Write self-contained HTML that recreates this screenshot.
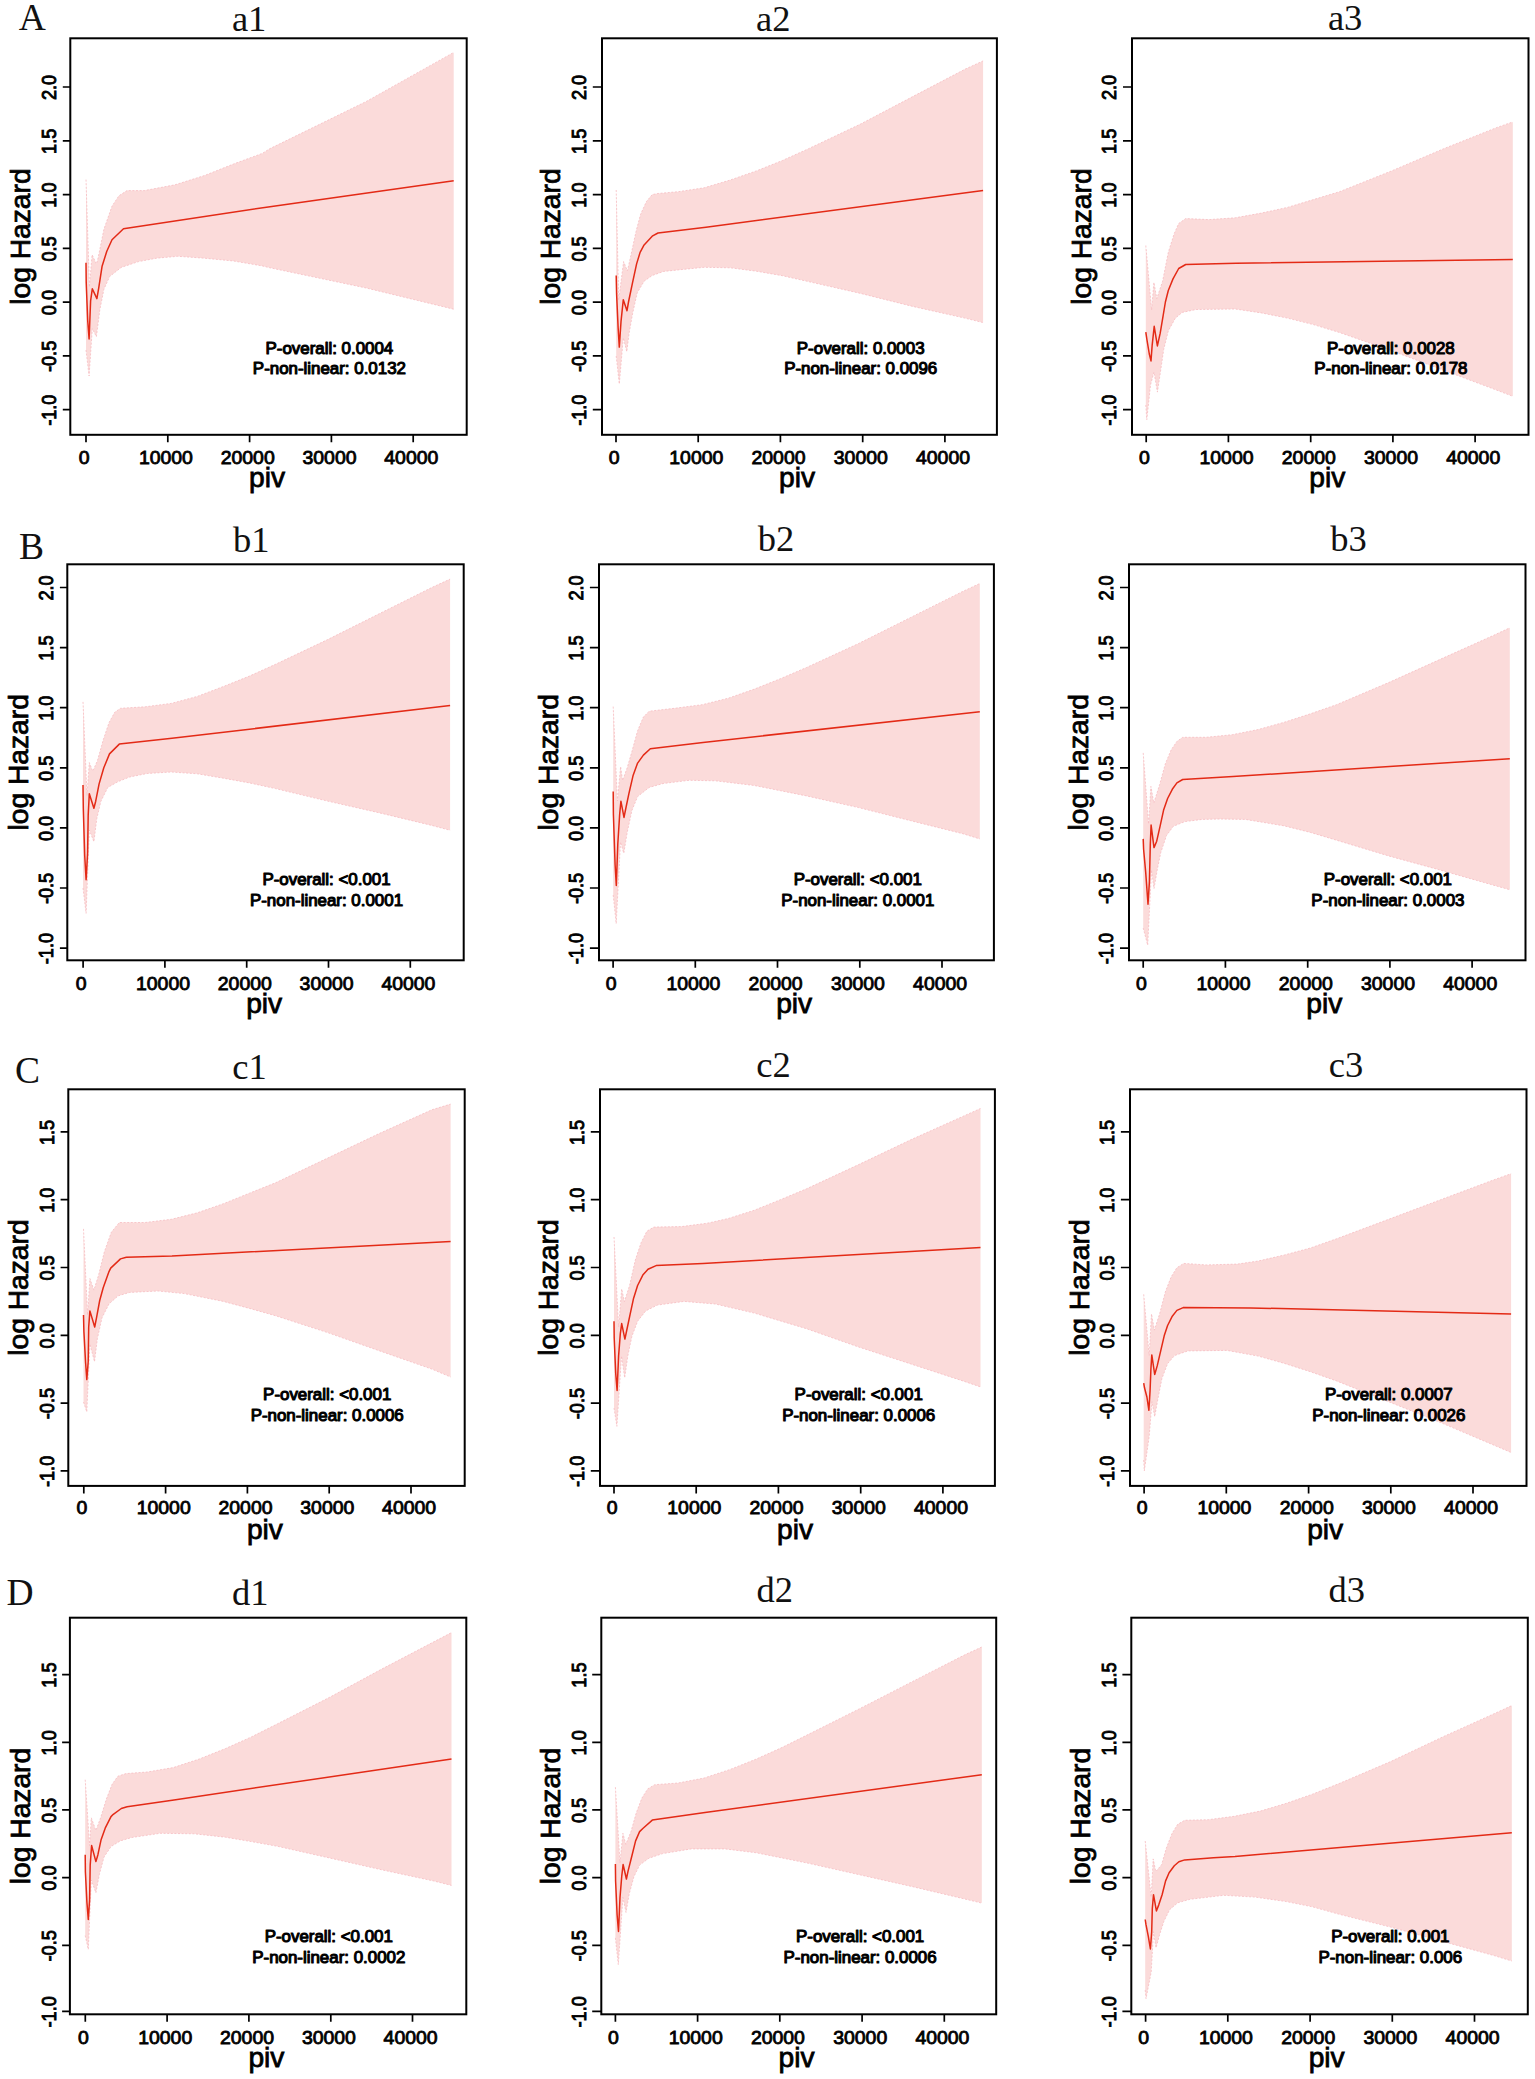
<!DOCTYPE html>
<html lang="en"><head><meta charset="utf-8"><title>Restricted cubic spline plots of piv and log hazard</title>
<style>
html,body{margin:0;padding:0;background:#fff;}
svg{display:block;}
.tk{font-family:"Liberation Sans", Arial, sans-serif;font-size:18.7px;fill:#000;stroke:#000;stroke-width:.85px;}
.lab{font-family:"Liberation Sans", Arial, sans-serif;font-size:28.2px;fill:#000;stroke:#000;stroke-width:.8px;}
.ann{font-family:"Liberation Sans", Arial, sans-serif;font-size:16.9px;fill:#000;stroke:#000;stroke-width:1.1px;stroke-linejoin:round;}
.ttl{font-family:"Liberation Serif", "Times New Roman", serif;font-size:36.5px;fill:#111;}
.big{font-family:"Liberation Serif", "Times New Roman", serif;font-size:37.5px;fill:#111;}
.fr{fill:none;stroke:#000;stroke-width:2;}
.tl{stroke:#000;stroke-width:1.7;fill:none;}
.band{fill:#fbdbda;stroke:none;}
.edge{fill:none;stroke:#f6bcc1;stroke-width:.8;stroke-dasharray:2 1.6;stroke-linejoin:round;}
.ln{fill:none;stroke:#e32a16;stroke-width:1.5;stroke-linejoin:round;}
</style></head><body>
<svg width="1535" height="2079" viewBox="0 0 1535 2079">
<rect width="1535" height="2079" fill="#fff"/>
<text class="big" x="18.7" y="30.1">A</text>
<text class="big" x="18.9" y="558.6">B</text>
<text class="big" x="15" y="1082.5">C</text>
<text class="big" x="6.6" y="1605.4">D</text>
<g id="a1">
<text class="ttl" x="231.9" y="31.3">a1</text>
<polygon class="band" points="86,179.6 89.4,287 92.1,254.7 96.4,264 98.1,258 103.9,229.3 112,206.2 118.9,195.8 127,190.6 144.3,190.6 175,184.8 204.6,175.5 233.5,164 262.3,153.4 270,148.6 366.2,101.5 453.7,52.4 453.7,309.2 366.2,288 270,267.8 262.3,265.9 233.5,261 204.6,258.2 177.7,256.3 156.5,258.2 138.5,261.6 121.2,267.4 109.6,276.6 103.9,289.3 99.8,310 96.4,336.7 92.3,328.6 89.1,376 86,350"/>
<polyline class="edge" points="86,179.6 89.4,287 92.1,254.7 96.4,264 98.1,258 103.9,229.3 112,206.2 118.9,195.8 127,190.6 144.3,190.6 175,184.8 204.6,175.5 233.5,164 262.3,153.4 270,148.6 366.2,101.5 453.7,52.4"/>
<polyline class="edge" points="86,350 89.1,376 92.3,328.6 96.4,336.7 99.8,310 103.9,289.3 109.6,276.6 121.2,267.4 138.5,261.6 156.5,258.2 177.7,256.3 204.6,258.2 233.5,261 262.3,265.9 270,267.8 366.2,288 453.7,309.2"/>
<polyline class="ln" points="86,262.8 86.2,282.4 87.7,320.5 89.1,339 90.6,300.9 92.3,288.8 96.9,298.6 98.7,288.2 102.1,266.2 106.8,251.2 112,239.7 123.5,228.7 270,206.7 453.7,180.7"/>
<rect class="fr" x="70.3" y="38.3" width="396.4" height="396.5"/>
<path class="tl" d="M86 434.8v7.5M167.8 434.8v7.5M249.6 434.8v7.5M331.4 434.8v7.5M413.2 434.8v7.5M70.3 87H62.8M70.3 140.8H62.8M70.3 194.6H62.8M70.3 248.4H62.8M70.3 302.1H62.8M70.3 355.9H62.8M70.3 409.7H62.8"/>
<text class="tk" text-anchor="middle" transform="translate(84.1 463.5) scale(1.04 1)">0</text>
<text class="tk" text-anchor="middle" transform="translate(165.9 463.5) scale(1.04 1)">10000</text>
<text class="tk" text-anchor="middle" transform="translate(247.7 463.5) scale(1.04 1)">20000</text>
<text class="tk" text-anchor="middle" transform="translate(329.5 463.5) scale(1.04 1)">30000</text>
<text class="tk" text-anchor="middle" transform="translate(411.3 463.5) scale(1.04 1)">40000</text>
<text class="tk" text-anchor="middle" transform="translate(56.2 87.5) rotate(-90) scale(0.97 1.11)">2.0</text>
<text class="tk" text-anchor="middle" transform="translate(56.2 141.3) rotate(-90) scale(0.97 1.11)">1.5</text>
<text class="tk" text-anchor="middle" transform="translate(56.2 195.1) rotate(-90) scale(0.97 1.11)">1.0</text>
<text class="tk" text-anchor="middle" transform="translate(56.2 248.9) rotate(-90) scale(0.97 1.11)">0.5</text>
<text class="tk" text-anchor="middle" transform="translate(56.2 302.6) rotate(-90) scale(0.97 1.11)">0.0</text>
<text class="tk" text-anchor="middle" transform="translate(56.2 356.4) rotate(-90) scale(0.97 1.11)">-0.5</text>
<text class="tk" text-anchor="middle" transform="translate(56.2 410.2) rotate(-90) scale(0.97 1.11)">-1.0</text>
<text class="lab" text-anchor="middle" transform="translate(30.4 236.6) rotate(-90)">log Hazard</text>
<text class="lab" text-anchor="middle" x="267.1" y="487.4">piv</text>
<text class="ann" text-anchor="middle" x="329.4" y="353.6">P-overall: 0.0004</text>
<text class="ann" text-anchor="middle" x="329.4" y="374.2">P-non-linear: 0.0132</text>
</g>
<g id="a2">
<text class="ttl" x="756.1" y="31">a2</text>
<polygon class="band" points="616.2,190 618.7,300 623.6,261.6 627.4,270.9 630.8,255.8 636,231.6 640.6,214.3 646.4,201.6 652.2,194.6 658,193.5 678.2,191.7 704.2,187.8 730.3,180 756.4,170.9 782.4,160.5 808.5,148.7 860.6,124 912.7,96.6 964.8,69.3 983.1,60.9 983.1,322.6 964.8,318.1 912.7,306.4 860.6,293.4 808.5,281.6 782.4,275.7 756.4,271.2 730.3,267.8 704.2,267.3 678.2,269.9 663.7,271.4 652.2,275.5 644.1,281.2 637.2,292.8 632.6,313.6 629.1,333.2 626.8,351.7 623.3,337.8 619.3,384 616.2,356"/>
<polyline class="edge" points="616.2,190 618.7,300 623.6,261.6 627.4,270.9 630.8,255.8 636,231.6 640.6,214.3 646.4,201.6 652.2,194.6 658,193.5 678.2,191.7 704.2,187.8 730.3,180 756.4,170.9 782.4,160.5 808.5,148.7 860.6,124 912.7,96.6 964.8,69.3 983.1,60.9"/>
<polyline class="edge" points="616.2,356 619.3,384 623.3,337.8 626.8,351.7 629.1,333.2 632.6,313.6 637.2,292.8 644.1,281.2 652.2,275.5 663.7,271.4 678.2,269.9 704.2,267.3 730.3,267.8 756.4,271.2 782.4,275.7 808.5,281.6 860.6,293.4 912.7,306.4 964.8,318.1 983.1,322.6"/>
<polyline class="ln" points="616.2,275.5 616.6,293.9 618.1,327.4 619.3,347.1 621,321.7 623.3,299.7 627,310.7 628.5,302 632.6,282.4 636.6,263.9 640.1,252.4 644.1,244.9 652.2,236.2 658,233 706,227.3 983.1,190.4"/>
<rect class="fr" x="602" y="38.3" width="394.9" height="396.5"/>
<path class="tl" d="M616 434.8v7.5M698.2 434.8v7.5M780.4 434.8v7.5M862.7 434.8v7.5M944.9 434.8v7.5M602 87H592.8M602 140.8H592.8M602 194.6H592.8M602 248.4H592.8M602 302.1H592.8M602 355.9H592.8M602 409.7H592.8"/>
<text class="tk" text-anchor="middle" transform="translate(614.1 463.5) scale(1.04 1)">0</text>
<text class="tk" text-anchor="middle" transform="translate(696.3 463.5) scale(1.04 1)">10000</text>
<text class="tk" text-anchor="middle" transform="translate(778.5 463.5) scale(1.04 1)">20000</text>
<text class="tk" text-anchor="middle" transform="translate(860.8 463.5) scale(1.04 1)">30000</text>
<text class="tk" text-anchor="middle" transform="translate(943 463.5) scale(1.04 1)">40000</text>
<text class="tk" text-anchor="middle" transform="translate(586.2 87.5) rotate(-90) scale(0.97 1.11)">2.0</text>
<text class="tk" text-anchor="middle" transform="translate(586.2 141.3) rotate(-90) scale(0.97 1.11)">1.5</text>
<text class="tk" text-anchor="middle" transform="translate(586.2 195.1) rotate(-90) scale(0.97 1.11)">1.0</text>
<text class="tk" text-anchor="middle" transform="translate(586.2 248.9) rotate(-90) scale(0.97 1.11)">0.5</text>
<text class="tk" text-anchor="middle" transform="translate(586.2 302.6) rotate(-90) scale(0.97 1.11)">0.0</text>
<text class="tk" text-anchor="middle" transform="translate(586.2 356.4) rotate(-90) scale(0.97 1.11)">-0.5</text>
<text class="tk" text-anchor="middle" transform="translate(586.2 410.2) rotate(-90) scale(0.97 1.11)">-1.0</text>
<text class="lab" text-anchor="middle" transform="translate(560.4 236.6) rotate(-90)">log Hazard</text>
<text class="lab" text-anchor="middle" x="797.1" y="487.4">piv</text>
<text class="ann" text-anchor="middle" x="860.7" y="353.6">P-overall: 0.0003</text>
<text class="ann" text-anchor="middle" x="860.7" y="374.2">P-non-linear: 0.0096</text>
</g>
<g id="a3">
<text class="ttl" x="1327.9" y="30">a3</text>
<polygon class="band" points="1145.8,245.5 1151.6,310 1153.9,282.4 1156.8,298.6 1162.6,281.2 1168.3,252.4 1174.1,233.9 1178.7,223.5 1185.7,218.6 1209.2,219.6 1235.2,217.8 1261.3,213.1 1287.4,207.4 1313.4,199.6 1339.5,191.7 1391.6,170.9 1443.7,148.7 1495.8,127.9 1512.8,121.9 1512.8,396.3 1495.8,389.8 1443.7,370.3 1391.6,350.7 1339.5,332.5 1313.4,324.6 1287.4,318.1 1261.3,312.9 1235.2,309 1196.1,309.5 1182.2,312.4 1175.3,318.2 1168.3,330.9 1163.7,349.4 1160.2,373.6 1157.4,392.1 1154,372 1150.5,385 1146.8,419.8 1145.8,405"/>
<polyline class="edge" points="1145.8,245.5 1151.6,310 1153.9,282.4 1156.8,298.6 1162.6,281.2 1168.3,252.4 1174.1,233.9 1178.7,223.5 1185.7,218.6 1209.2,219.6 1235.2,217.8 1261.3,213.1 1287.4,207.4 1313.4,199.6 1339.5,191.7 1391.6,170.9 1443.7,148.7 1495.8,127.9 1512.8,121.9"/>
<polyline class="edge" points="1145.8,405 1146.8,419.8 1150.5,385 1154,372 1157.4,392.1 1160.2,373.6 1163.7,349.4 1168.3,330.9 1175.3,318.2 1182.2,312.4 1196.1,309.5 1235.2,309 1261.3,312.9 1287.4,318.1 1313.4,324.6 1339.5,332.5 1391.6,350.7 1443.7,370.3 1495.8,389.8 1512.8,396.3"/>
<polyline class="ln" points="1145.8,332.1 1147,340.1 1149.3,354 1151,360.9 1152.2,344.8 1154.2,326.3 1157.4,345.9 1160.2,333.2 1163.1,315.9 1165.4,302 1168.3,290.5 1173,278.9 1178.7,268.5 1185.7,264.5 1236,263.3 1512.8,259.5"/>
<rect class="fr" x="1132" y="38.3" width="396.5" height="396.5"/>
<path class="tl" d="M1146.2 434.8v7.5M1228.4 434.8v7.5M1310.7 434.8v7.5M1392.9 434.8v7.5M1475.1 434.8v7.5M1132 87H1123M1132 140.8H1123M1132 194.6H1123M1132 248.4H1123M1132 302.1H1123M1132 355.9H1123M1132 409.7H1123"/>
<text class="tk" text-anchor="middle" transform="translate(1144.3 463.5) scale(1.04 1)">0</text>
<text class="tk" text-anchor="middle" transform="translate(1226.5 463.5) scale(1.04 1)">10000</text>
<text class="tk" text-anchor="middle" transform="translate(1308.8 463.5) scale(1.04 1)">20000</text>
<text class="tk" text-anchor="middle" transform="translate(1391 463.5) scale(1.04 1)">30000</text>
<text class="tk" text-anchor="middle" transform="translate(1473.2 463.5) scale(1.04 1)">40000</text>
<text class="tk" text-anchor="middle" transform="translate(1116.4 87.5) rotate(-90) scale(0.97 1.11)">2.0</text>
<text class="tk" text-anchor="middle" transform="translate(1116.4 141.3) rotate(-90) scale(0.97 1.11)">1.5</text>
<text class="tk" text-anchor="middle" transform="translate(1116.4 195.1) rotate(-90) scale(0.97 1.11)">1.0</text>
<text class="tk" text-anchor="middle" transform="translate(1116.4 248.9) rotate(-90) scale(0.97 1.11)">0.5</text>
<text class="tk" text-anchor="middle" transform="translate(1116.4 302.6) rotate(-90) scale(0.97 1.11)">0.0</text>
<text class="tk" text-anchor="middle" transform="translate(1116.4 356.4) rotate(-90) scale(0.97 1.11)">-0.5</text>
<text class="tk" text-anchor="middle" transform="translate(1116.4 410.2) rotate(-90) scale(0.97 1.11)">-1.0</text>
<text class="lab" text-anchor="middle" transform="translate(1090.6 236.6) rotate(-90)">log Hazard</text>
<text class="lab" text-anchor="middle" x="1327.3" y="487.4">piv</text>
<text class="ann" text-anchor="middle" x="1390.9" y="353.6">P-overall: 0.0028</text>
<text class="ann" text-anchor="middle" x="1390.9" y="374.2">P-non-linear: 0.0178</text>
</g>
<g id="b1">
<text class="ttl" x="233" y="551.8">b1</text>
<polygon class="band" points="83,701.9 87,795.5 89.3,762.6 92.8,771.2 97.4,760.8 103.2,740 109,722.7 114.7,712.3 120.5,708.3 145.2,706.8 171.2,703.4 197.3,696.4 223.4,686.5 249.4,676.1 275.5,664.3 327.6,639.6 379.7,613.5 431.8,587.5 450.1,579.1 450.1,830.3 431.8,825.4 379.7,812.9 327.6,801.1 275.5,788.6 249.4,782.9 223.4,778.2 197.3,773.8 171.2,772 147.1,773.5 129.7,777 118.2,781.6 107.8,787.4 100.9,801.2 96.8,818.6 93.9,841.7 89.3,830 86.1,913.3 83,888"/>
<polyline class="edge" points="83,701.9 87,795.5 89.3,762.6 92.8,771.2 97.4,760.8 103.2,740 109,722.7 114.7,712.3 120.5,708.3 145.2,706.8 171.2,703.4 197.3,696.4 223.4,686.5 249.4,676.1 275.5,664.3 327.6,639.6 379.7,613.5 431.8,587.5 450.1,579.1"/>
<polyline class="edge" points="83,888 86.1,913.3 89.3,830 93.9,841.7 96.8,818.6 100.9,801.2 107.8,787.4 118.2,781.6 129.7,777 147.1,773.5 171.2,772 197.3,773.8 223.4,778.2 249.4,782.9 275.5,788.6 327.6,801.1 379.7,812.9 431.8,825.4 450.1,830.3"/>
<polyline class="ln" points="83,785.1 83.3,808.2 84.7,855.5 86.1,879.8 87.6,853.2 88.2,815.1 89.3,793.7 93.9,808.2 95.7,801.2 99.1,783.9 103.8,767.8 109.5,753.9 119.3,744.1 172,738.3 450.1,705.5"/>
<rect class="fr" x="67.3" y="564.3" width="396.4" height="396"/>
<path class="tl" d="M83.1 960.3v7.5M164.9 960.3v7.5M246.7 960.3v7.5M328.5 960.3v7.5M410.3 960.3v7.5M67.3 587.5H59.9M67.3 647.6H59.9M67.3 707.7H59.9M67.3 767.8H59.9M67.3 827.9H59.9M67.3 888H59.9M67.3 948.1H59.9"/>
<text class="tk" text-anchor="middle" transform="translate(81.2 989.6) scale(1.04 1)">0</text>
<text class="tk" text-anchor="middle" transform="translate(163 989.6) scale(1.04 1)">10000</text>
<text class="tk" text-anchor="middle" transform="translate(244.8 989.6) scale(1.04 1)">20000</text>
<text class="tk" text-anchor="middle" transform="translate(326.6 989.6) scale(1.04 1)">30000</text>
<text class="tk" text-anchor="middle" transform="translate(408.4 989.6) scale(1.04 1)">40000</text>
<text class="tk" text-anchor="middle" transform="translate(53.3 588) rotate(-90) scale(0.97 1.11)">2.0</text>
<text class="tk" text-anchor="middle" transform="translate(53.3 648.1) rotate(-90) scale(0.97 1.11)">1.5</text>
<text class="tk" text-anchor="middle" transform="translate(53.3 708.2) rotate(-90) scale(0.97 1.11)">1.0</text>
<text class="tk" text-anchor="middle" transform="translate(53.3 768.3) rotate(-90) scale(0.97 1.11)">0.5</text>
<text class="tk" text-anchor="middle" transform="translate(53.3 828.4) rotate(-90) scale(0.97 1.11)">0.0</text>
<text class="tk" text-anchor="middle" transform="translate(53.3 888.5) rotate(-90) scale(0.97 1.11)">-0.5</text>
<text class="tk" text-anchor="middle" transform="translate(53.3 948.6) rotate(-90) scale(0.97 1.11)">-1.0</text>
<text class="lab" text-anchor="middle" transform="translate(27.5 762.3) rotate(-90)">log Hazard</text>
<text class="lab" text-anchor="middle" x="264.2" y="1012.9">piv</text>
<text class="ann" text-anchor="middle" x="326.5" y="885.4">P-overall: &lt;0.001</text>
<text class="ann" text-anchor="middle" x="326.5" y="906">P-non-linear: 0.0001</text>
</g>
<g id="b2">
<text class="ttl" x="757.7" y="551">b2</text>
<polygon class="band" points="613.2,706.6 617.4,801 620.6,766.6 622.6,780.5 627.2,767.8 631.9,751.6 637.6,730.8 643.4,717 649.2,711.2 676.2,708.1 702.2,704.7 728.3,698.2 754.4,689.1 780.4,678.7 806.5,667.5 858.6,643.5 910.7,617.4 962.8,591.4 979.8,583.5 979.8,838.9 962.8,833.7 910.7,820.7 858.6,807.6 806.5,795.9 780.4,790.7 754.4,785.5 715.3,780.8 689.2,780.3 663.1,783.5 649.2,787.4 637.6,796.6 631.9,810.5 627.2,832.4 623.8,853.2 620.5,842 616.2,923.6 613.2,895"/>
<polyline class="edge" points="613.2,706.6 617.4,801 620.6,766.6 622.6,780.5 627.2,767.8 631.9,751.6 637.6,730.8 643.4,717 649.2,711.2 676.2,708.1 702.2,704.7 728.3,698.2 754.4,689.1 780.4,678.7 806.5,667.5 858.6,643.5 910.7,617.4 962.8,591.4 979.8,583.5"/>
<polyline class="edge" points="613.2,895 616.2,923.6 620.5,842 623.8,853.2 627.2,832.4 631.9,810.5 637.6,796.6 649.2,787.4 663.1,783.5 689.2,780.3 715.3,780.8 754.4,785.5 780.4,790.7 806.5,795.9 858.6,807.6 910.7,820.7 962.8,833.7 979.8,838.9"/>
<polyline class="ln" points="613.2,791.4 613.4,814.5 615.1,864.8 616.3,885.5 617.8,844 619.7,813.9 620.9,801.2 624,817.4 626.1,807 629,793.2 633,775.8 637.6,763.1 643.4,755.1 650.3,748.7 703,742.4 979.8,711.8"/>
<rect class="fr" x="599" y="564.3" width="394.9" height="396"/>
<path class="tl" d="M613.1 960.3v7.5M695.3 960.3v7.5M777.5 960.3v7.5M859.8 960.3v7.5M942 960.3v7.5M599 587.5H589.9M599 647.6H589.9M599 707.7H589.9M599 767.8H589.9M599 827.9H589.9M599 888H589.9M599 948.1H589.9"/>
<text class="tk" text-anchor="middle" transform="translate(611.2 989.6) scale(1.04 1)">0</text>
<text class="tk" text-anchor="middle" transform="translate(693.4 989.6) scale(1.04 1)">10000</text>
<text class="tk" text-anchor="middle" transform="translate(775.6 989.6) scale(1.04 1)">20000</text>
<text class="tk" text-anchor="middle" transform="translate(857.9 989.6) scale(1.04 1)">30000</text>
<text class="tk" text-anchor="middle" transform="translate(940.1 989.6) scale(1.04 1)">40000</text>
<text class="tk" text-anchor="middle" transform="translate(583.3 588) rotate(-90) scale(0.97 1.11)">2.0</text>
<text class="tk" text-anchor="middle" transform="translate(583.3 648.1) rotate(-90) scale(0.97 1.11)">1.5</text>
<text class="tk" text-anchor="middle" transform="translate(583.3 708.2) rotate(-90) scale(0.97 1.11)">1.0</text>
<text class="tk" text-anchor="middle" transform="translate(583.3 768.3) rotate(-90) scale(0.97 1.11)">0.5</text>
<text class="tk" text-anchor="middle" transform="translate(583.3 828.4) rotate(-90) scale(0.97 1.11)">0.0</text>
<text class="tk" text-anchor="middle" transform="translate(583.3 888.5) rotate(-90) scale(0.97 1.11)">-0.5</text>
<text class="tk" text-anchor="middle" transform="translate(583.3 948.6) rotate(-90) scale(0.97 1.11)">-1.0</text>
<text class="lab" text-anchor="middle" transform="translate(557.5 762.3) rotate(-90)">log Hazard</text>
<text class="lab" text-anchor="middle" x="794.2" y="1012.9">piv</text>
<text class="ann" text-anchor="middle" x="857.8" y="885.4">P-overall: &lt;0.001</text>
<text class="ann" text-anchor="middle" x="857.8" y="906">P-non-linear: 0.0001</text>
</g>
<g id="b3">
<text class="ttl" x="1330.3" y="550.5">b3</text>
<polygon class="band" points="1143.2,752.9 1148.6,824 1150.9,786.4 1153.8,803.1 1159.6,784.7 1165.3,763.9 1171.1,750 1176.9,741.4 1182.7,737.3 1206.2,737.3 1232.2,734.7 1258.3,729.5 1284.4,722.2 1310.4,713.8 1336.5,704.7 1388.6,682.6 1440.7,659.1 1492.8,635.7 1509.8,627.8 1509.8,889.7 1492.8,885 1440.7,870.2 1388.6,855.9 1336.5,840.2 1310.4,832.4 1284.4,825.9 1245.3,819.4 1219.2,819 1202.3,819.4 1185,821.6 1173.4,826.2 1166.5,835.5 1160.7,852.8 1157.2,870.1 1154,888.6 1151.5,870 1147.7,945.2 1143.2,928"/>
<polyline class="edge" points="1143.2,752.9 1148.6,824 1150.9,786.4 1153.8,803.1 1159.6,784.7 1165.3,763.9 1171.1,750 1176.9,741.4 1182.7,737.3 1206.2,737.3 1232.2,734.7 1258.3,729.5 1284.4,722.2 1310.4,713.8 1336.5,704.7 1388.6,682.6 1440.7,659.1 1492.8,635.7 1509.8,627.8"/>
<polyline class="edge" points="1143.2,928 1147.7,945.2 1151.5,870 1154,888.6 1157.2,870.1 1160.7,852.8 1166.5,835.5 1173.4,826.2 1185,821.6 1202.3,819.4 1219.2,819 1245.3,819.4 1284.4,825.9 1310.4,832.4 1336.5,840.2 1388.6,855.9 1440.7,870.2 1492.8,885 1509.8,889.7"/>
<polyline class="ln" points="1143.2,838.9 1143.6,849.3 1145.7,872.4 1148,904.2 1149.4,881.7 1150.3,844.7 1151.1,825.1 1154,847.6 1156.7,841.2 1160.1,826.2 1163.6,810.1 1167.6,798.5 1172.3,789.3 1176.9,782.9 1182.7,779.5 1233,776.6 1509.8,758.7"/>
<rect class="fr" x="1129" y="564.3" width="396.5" height="396"/>
<path class="tl" d="M1143.2 960.3v7.5M1225.4 960.3v7.5M1307.7 960.3v7.5M1389.9 960.3v7.5M1472.1 960.3v7.5M1129 587.5H1120M1129 647.6H1120M1129 707.7H1120M1129 767.8H1120M1129 827.9H1120M1129 888H1120M1129 948.1H1120"/>
<text class="tk" text-anchor="middle" transform="translate(1141.3 989.6) scale(1.04 1)">0</text>
<text class="tk" text-anchor="middle" transform="translate(1223.5 989.6) scale(1.04 1)">10000</text>
<text class="tk" text-anchor="middle" transform="translate(1305.8 989.6) scale(1.04 1)">20000</text>
<text class="tk" text-anchor="middle" transform="translate(1388 989.6) scale(1.04 1)">30000</text>
<text class="tk" text-anchor="middle" transform="translate(1470.2 989.6) scale(1.04 1)">40000</text>
<text class="tk" text-anchor="middle" transform="translate(1113.4 588) rotate(-90) scale(0.97 1.11)">2.0</text>
<text class="tk" text-anchor="middle" transform="translate(1113.4 648.1) rotate(-90) scale(0.97 1.11)">1.5</text>
<text class="tk" text-anchor="middle" transform="translate(1113.4 708.2) rotate(-90) scale(0.97 1.11)">1.0</text>
<text class="tk" text-anchor="middle" transform="translate(1113.4 768.3) rotate(-90) scale(0.97 1.11)">0.5</text>
<text class="tk" text-anchor="middle" transform="translate(1113.4 828.4) rotate(-90) scale(0.97 1.11)">0.0</text>
<text class="tk" text-anchor="middle" transform="translate(1113.4 888.5) rotate(-90) scale(0.97 1.11)">-0.5</text>
<text class="tk" text-anchor="middle" transform="translate(1113.4 948.6) rotate(-90) scale(0.97 1.11)">-1.0</text>
<text class="lab" text-anchor="middle" transform="translate(1087.6 762.3) rotate(-90)">log Hazard</text>
<text class="lab" text-anchor="middle" x="1324.3" y="1012.9">piv</text>
<text class="ann" text-anchor="middle" x="1387.9" y="885.4">P-overall: &lt;0.001</text>
<text class="ann" text-anchor="middle" x="1387.9" y="906">P-non-linear: 0.0003</text>
</g>
<g id="c1">
<text class="ttl" x="232.2" y="1079.1">c1</text>
<polygon class="band" points="83.5,1228.9 87.6,1315 89.9,1278.5 93.9,1290.1 98.6,1275.1 104.3,1252 111.3,1232.3 119.3,1222.5 145.2,1222.5 171.2,1219.3 197.3,1212.8 223.4,1203.7 249.4,1193.2 275.5,1182.8 327.6,1158.1 379.7,1133.3 431.8,1109.8 450.6,1104.1 450.6,1377 431.8,1369.1 379.7,1350.9 327.6,1332.6 275.5,1315.7 249.4,1308.4 223.4,1301.4 184.3,1293.6 158.2,1291 129.7,1292.4 118.2,1295.8 109,1303.9 102,1317.8 97.4,1338.6 94.5,1361.7 89.9,1344 86.8,1411.9 83.5,1402"/>
<polyline class="edge" points="83.5,1228.9 87.6,1315 89.9,1278.5 93.9,1290.1 98.6,1275.1 104.3,1252 111.3,1232.3 119.3,1222.5 145.2,1222.5 171.2,1219.3 197.3,1212.8 223.4,1203.7 249.4,1193.2 275.5,1182.8 327.6,1158.1 379.7,1133.3 431.8,1109.8 450.6,1104.1"/>
<polyline class="edge" points="83.5,1402 86.8,1411.9 89.9,1344 94.5,1361.7 97.4,1338.6 102,1317.8 109,1303.9 118.2,1295.8 129.7,1292.4 158.2,1291 184.3,1293.6 223.4,1301.4 249.4,1308.4 275.5,1315.7 327.6,1332.6 379.7,1350.9 431.8,1369.1 450.6,1377"/>
<polyline class="ln" points="83.5,1314.9 83.9,1331.6 85.6,1362.8 86.8,1379.6 88.2,1361.7 88.7,1327 89.9,1310.9 94.7,1327 96.5,1317.8 99.7,1300.5 103.2,1287.8 109,1271.6 110.7,1268.1 120.5,1258.9 126.3,1257.2 172,1256 450.6,1241.4"/>
<rect class="fr" x="68.3" y="1089.3" width="396.4" height="396.6"/>
<path class="tl" d="M83.8 1485.9v7.5M165.6 1485.9v7.5M247.4 1485.9v7.5M329.2 1485.9v7.5M411 1485.9v7.5M68.3 1131.9H60.6M68.3 1199.7H60.6M68.3 1267.5H60.6M68.3 1335.3H60.6M68.3 1403.1H60.6M68.3 1470.9H60.6"/>
<text class="tk" text-anchor="middle" transform="translate(81.9 1514.4) scale(1.04 1)">0</text>
<text class="tk" text-anchor="middle" transform="translate(163.7 1514.4) scale(1.04 1)">10000</text>
<text class="tk" text-anchor="middle" transform="translate(245.5 1514.4) scale(1.04 1)">20000</text>
<text class="tk" text-anchor="middle" transform="translate(327.3 1514.4) scale(1.04 1)">30000</text>
<text class="tk" text-anchor="middle" transform="translate(409.1 1514.4) scale(1.04 1)">40000</text>
<text class="tk" text-anchor="middle" transform="translate(54 1132.4) rotate(-90) scale(0.97 1.11)">1.5</text>
<text class="tk" text-anchor="middle" transform="translate(54 1200.2) rotate(-90) scale(0.97 1.11)">1.0</text>
<text class="tk" text-anchor="middle" transform="translate(54 1268) rotate(-90) scale(0.97 1.11)">0.5</text>
<text class="tk" text-anchor="middle" transform="translate(54 1335.8) rotate(-90) scale(0.97 1.11)">0.0</text>
<text class="tk" text-anchor="middle" transform="translate(54 1403.6) rotate(-90) scale(0.97 1.11)">-0.5</text>
<text class="tk" text-anchor="middle" transform="translate(54 1471.4) rotate(-90) scale(0.97 1.11)">-1.0</text>
<text class="lab" text-anchor="middle" transform="translate(28.2 1287.6) rotate(-90)">log Hazard</text>
<text class="lab" text-anchor="middle" x="264.9" y="1538.5">piv</text>
<text class="ann" text-anchor="middle" x="327.2" y="1400.1">P-overall: &lt;0.001</text>
<text class="ann" text-anchor="middle" x="327.2" y="1420.7">P-non-linear: 0.0006</text>
</g>
<g id="c2">
<text class="ttl" x="756.3" y="1077.3">c2</text>
<polygon class="band" points="614,1237 618.6,1327 621.7,1288.9 624.4,1301.6 629.6,1285.5 635.3,1260 641.1,1242.7 646.9,1231.2 653.8,1227.1 681.4,1226.6 707.4,1223.2 728.3,1218.5 754.4,1210.2 780.4,1199.7 806.5,1188.8 858.6,1164.6 910.7,1139.8 962.8,1116.4 980.5,1108.5 980.5,1386.9 962.8,1380.9 910.7,1363.9 858.6,1347 806.5,1328.7 780.4,1320.9 754.4,1313.1 715.3,1304 684,1301.4 657.3,1305.1 645.7,1310.9 637.6,1321.2 631.9,1336.3 627.8,1355.9 624.7,1377.8 621.5,1356 616.9,1426.3 614,1408"/>
<polyline class="edge" points="614,1237 618.6,1327 621.7,1288.9 624.4,1301.6 629.6,1285.5 635.3,1260 641.1,1242.7 646.9,1231.2 653.8,1227.1 681.4,1226.6 707.4,1223.2 728.3,1218.5 754.4,1210.2 780.4,1199.7 806.5,1188.8 858.6,1164.6 910.7,1139.8 962.8,1116.4 980.5,1108.5"/>
<polyline class="edge" points="614,1408 616.9,1426.3 621.5,1356 624.7,1377.8 627.8,1355.9 631.9,1336.3 637.6,1321.2 645.7,1310.9 657.3,1305.1 684,1301.4 715.3,1304 754.4,1313.1 780.4,1320.9 806.5,1328.7 858.6,1347 910.7,1363.9 962.8,1380.9 980.5,1386.9"/>
<polyline class="ln" points="614,1321.2 614.2,1338 615.7,1373.2 617.1,1390.5 618.6,1355.9 620.3,1333.9 621.7,1323.6 624.9,1339.1 626.7,1330.5 630.1,1314.3 633.6,1298.2 637.6,1285.5 642.8,1275.1 648,1269.3 656.1,1265.6 703,1263.5 980.5,1247.4"/>
<rect class="fr" x="600" y="1089.3" width="394.9" height="396.6"/>
<path class="tl" d="M614 1485.9v7.5M696.2 1485.9v7.5M778.4 1485.9v7.5M860.7 1485.9v7.5M942.9 1485.9v7.5M600 1131.9H590.8M600 1199.7H590.8M600 1267.5H590.8M600 1335.3H590.8M600 1403.1H590.8M600 1470.9H590.8"/>
<text class="tk" text-anchor="middle" transform="translate(612.1 1514.4) scale(1.04 1)">0</text>
<text class="tk" text-anchor="middle" transform="translate(694.3 1514.4) scale(1.04 1)">10000</text>
<text class="tk" text-anchor="middle" transform="translate(776.5 1514.4) scale(1.04 1)">20000</text>
<text class="tk" text-anchor="middle" transform="translate(858.8 1514.4) scale(1.04 1)">30000</text>
<text class="tk" text-anchor="middle" transform="translate(941 1514.4) scale(1.04 1)">40000</text>
<text class="tk" text-anchor="middle" transform="translate(584.2 1132.4) rotate(-90) scale(0.97 1.11)">1.5</text>
<text class="tk" text-anchor="middle" transform="translate(584.2 1200.2) rotate(-90) scale(0.97 1.11)">1.0</text>
<text class="tk" text-anchor="middle" transform="translate(584.2 1268) rotate(-90) scale(0.97 1.11)">0.5</text>
<text class="tk" text-anchor="middle" transform="translate(584.2 1335.8) rotate(-90) scale(0.97 1.11)">0.0</text>
<text class="tk" text-anchor="middle" transform="translate(584.2 1403.6) rotate(-90) scale(0.97 1.11)">-0.5</text>
<text class="tk" text-anchor="middle" transform="translate(584.2 1471.4) rotate(-90) scale(0.97 1.11)">-1.0</text>
<text class="lab" text-anchor="middle" transform="translate(558.4 1287.6) rotate(-90)">log Hazard</text>
<text class="lab" text-anchor="middle" x="795.1" y="1538.5">piv</text>
<text class="ann" text-anchor="middle" x="858.7" y="1400.1">P-overall: &lt;0.001</text>
<text class="ann" text-anchor="middle" x="858.7" y="1420.7">P-non-linear: 0.0006</text>
</g>
<g id="c3">
<text class="ttl" x="1328.7" y="1077.3">c3</text>
<polygon class="band" points="1143.7,1294.3 1149.2,1355.5 1151.5,1313.9 1154.4,1330.1 1159.6,1313.9 1165.3,1292 1171.1,1277 1176.9,1267.7 1183.8,1263.4 1206.2,1264.9 1237.4,1264.1 1258.3,1261 1284.4,1255 1310.4,1248 1336.5,1238.8 1388.6,1219.3 1440.7,1199.7 1492.8,1180.2 1511.1,1173.7 1511.1,1452.5 1492.8,1444.7 1440.7,1422.6 1388.6,1401.7 1336.5,1380.9 1310.4,1371.7 1284.4,1363.4 1258.3,1356.1 1227,1350.4 1187.9,1350.9 1174.6,1355.5 1167.6,1363.6 1161.9,1378.6 1157.8,1399.4 1154.7,1416.7 1152,1401.7 1149.2,1436.3 1144.3,1471 1143.7,1460"/>
<polyline class="edge" points="1143.7,1294.3 1149.2,1355.5 1151.5,1313.9 1154.4,1330.1 1159.6,1313.9 1165.3,1292 1171.1,1277 1176.9,1267.7 1183.8,1263.4 1206.2,1264.9 1237.4,1264.1 1258.3,1261 1284.4,1255 1310.4,1248 1336.5,1238.8 1388.6,1219.3 1440.7,1199.7 1492.8,1180.2 1511.1,1173.7"/>
<polyline class="edge" points="1143.7,1460 1144.3,1471 1149.2,1436.3 1152,1401.7 1154.7,1416.7 1157.8,1399.4 1161.9,1378.6 1167.6,1363.6 1174.6,1355.5 1187.9,1350.9 1227,1350.4 1258.3,1356.1 1284.4,1363.4 1310.4,1371.7 1336.5,1380.9 1388.6,1401.7 1440.7,1422.6 1492.8,1444.7 1511.1,1452.5"/>
<polyline class="ln" points="1143.7,1383.2 1144.5,1387.8 1146.9,1397 1148.9,1410.3 1150.1,1390.1 1150.9,1369.3 1151.8,1354.9 1154.7,1374.5 1157.2,1365.9 1160.7,1350.9 1164.2,1335.8 1167.6,1325.5 1172.3,1316.2 1176.9,1310.4 1183.2,1307.6 1250.5,1307.9 1511.1,1313.9"/>
<rect class="fr" x="1130" y="1089.3" width="396.5" height="396.6"/>
<path class="tl" d="M1144.1 1485.9v7.5M1226.3 1485.9v7.5M1308.6 1485.9v7.5M1390.8 1485.9v7.5M1473 1485.9v7.5M1130 1131.9H1120.9M1130 1199.7H1120.9M1130 1267.5H1120.9M1130 1335.3H1120.9M1130 1403.1H1120.9M1130 1470.9H1120.9"/>
<text class="tk" text-anchor="middle" transform="translate(1142.2 1514.4) scale(1.04 1)">0</text>
<text class="tk" text-anchor="middle" transform="translate(1224.4 1514.4) scale(1.04 1)">10000</text>
<text class="tk" text-anchor="middle" transform="translate(1306.7 1514.4) scale(1.04 1)">20000</text>
<text class="tk" text-anchor="middle" transform="translate(1388.9 1514.4) scale(1.04 1)">30000</text>
<text class="tk" text-anchor="middle" transform="translate(1471.1 1514.4) scale(1.04 1)">40000</text>
<text class="tk" text-anchor="middle" transform="translate(1114.3 1132.4) rotate(-90) scale(0.97 1.11)">1.5</text>
<text class="tk" text-anchor="middle" transform="translate(1114.3 1200.2) rotate(-90) scale(0.97 1.11)">1.0</text>
<text class="tk" text-anchor="middle" transform="translate(1114.3 1268) rotate(-90) scale(0.97 1.11)">0.5</text>
<text class="tk" text-anchor="middle" transform="translate(1114.3 1335.8) rotate(-90) scale(0.97 1.11)">0.0</text>
<text class="tk" text-anchor="middle" transform="translate(1114.3 1403.6) rotate(-90) scale(0.97 1.11)">-0.5</text>
<text class="tk" text-anchor="middle" transform="translate(1114.3 1471.4) rotate(-90) scale(0.97 1.11)">-1.0</text>
<text class="lab" text-anchor="middle" transform="translate(1088.5 1287.6) rotate(-90)">log Hazard</text>
<text class="lab" text-anchor="middle" x="1325.2" y="1538.5">piv</text>
<text class="ann" text-anchor="middle" x="1388.8" y="1400.1">P-overall: 0.0007</text>
<text class="ann" text-anchor="middle" x="1388.8" y="1420.7">P-non-linear: 0.0026</text>
</g>
<g id="d1">
<text class="ttl" x="232.1" y="1604.5">d1</text>
<polygon class="band" points="85.2,1779.7 89.6,1845.5 91.3,1817.8 95.9,1830.5 100.6,1817.8 106.3,1799.3 112.1,1784.3 117.9,1776.2 126,1773.6 147.2,1772 173.2,1767.6 199.3,1759 225.4,1748.6 251.4,1736.9 277.5,1723.8 329.6,1697.3 381.7,1669.1 433.8,1641.8 451.5,1632.6 451.5,1885.4 433.8,1881 381.7,1869.8 329.6,1858 277.5,1846.3 251.4,1841.6 225.4,1837.2 194.1,1833.8 160.2,1833.3 131.7,1837.5 120.2,1840.9 111,1846.6 104,1857 99.4,1874.3 95.9,1892.8 91.3,1880 88.3,1949.4 85.2,1935.5"/>
<polyline class="edge" points="85.2,1779.7 89.6,1845.5 91.3,1817.8 95.9,1830.5 100.6,1817.8 106.3,1799.3 112.1,1784.3 117.9,1776.2 126,1773.6 147.2,1772 173.2,1767.6 199.3,1759 225.4,1748.6 251.4,1736.9 277.5,1723.8 329.6,1697.3 381.7,1669.1 433.8,1641.8 451.5,1632.6"/>
<polyline class="edge" points="85.2,1935.5 88.3,1949.4 91.3,1880 95.9,1892.8 99.4,1874.3 104,1857 111,1846.6 120.2,1840.9 131.7,1837.5 160.2,1833.3 194.1,1833.8 225.4,1837.2 251.4,1841.6 277.5,1846.3 329.6,1858 381.7,1869.8 433.8,1881 451.5,1885.4"/>
<polyline class="ln" points="85.2,1854.7 85.4,1872 86.9,1902.1 88.3,1919.4 89.6,1899.7 90.2,1865.1 91.6,1845.5 95.9,1861.6 97.9,1854.7 101.1,1839.7 105.2,1828.2 111,1816.6 113.3,1814.3 121.3,1808.5 127.1,1806.8 174,1799.9 451.5,1759"/>
<rect class="fr" x="69.9" y="1617.7" width="396.4" height="396.6"/>
<path class="tl" d="M85.3 2014.3v7.5M167.1 2014.3v7.5M248.9 2014.3v7.5M330.8 2014.3v7.5M412.5 2014.3v7.5M69.9 1674.6H62.1M69.9 1742.3H62.1M69.9 1809.9H62.1M69.9 1877.6H62.1M69.9 1945.3H62.1M69.9 2011.3H62.1"/>
<text class="tk" text-anchor="middle" transform="translate(83.4 2043.6) scale(1.04 1)">0</text>
<text class="tk" text-anchor="middle" transform="translate(165.2 2043.6) scale(1.04 1)">10000</text>
<text class="tk" text-anchor="middle" transform="translate(247 2043.6) scale(1.04 1)">20000</text>
<text class="tk" text-anchor="middle" transform="translate(328.9 2043.6) scale(1.04 1)">30000</text>
<text class="tk" text-anchor="middle" transform="translate(410.6 2043.6) scale(1.04 1)">40000</text>
<text class="tk" text-anchor="middle" transform="translate(55.5 1675.1) rotate(-90) scale(0.97 1.11)">1.5</text>
<text class="tk" text-anchor="middle" transform="translate(55.5 1742.8) rotate(-90) scale(0.97 1.11)">1.0</text>
<text class="tk" text-anchor="middle" transform="translate(55.5 1810.4) rotate(-90) scale(0.97 1.11)">0.5</text>
<text class="tk" text-anchor="middle" transform="translate(55.5 1878.1) rotate(-90) scale(0.97 1.11)">0.0</text>
<text class="tk" text-anchor="middle" transform="translate(55.5 1945.8) rotate(-90) scale(0.97 1.11)">-0.5</text>
<text class="tk" text-anchor="middle" transform="translate(55.5 2011.8) rotate(-90) scale(0.97 1.11)">-1.0</text>
<text class="lab" text-anchor="middle" transform="translate(29.7 1816) rotate(-90)">log Hazard</text>
<text class="lab" text-anchor="middle" x="266.4" y="2066.9">piv</text>
<text class="ann" text-anchor="middle" x="328.8" y="1942.3">P-overall: &lt;0.001</text>
<text class="ann" text-anchor="middle" x="328.8" y="1962.9">P-non-linear: 0.0002</text>
</g>
<g id="d2">
<text class="ttl" x="756.4" y="1602.3">d2</text>
<polygon class="band" points="615.4,1787.2 620,1862.8 622.9,1833.3 625.8,1844.3 631,1831.6 636.2,1813.1 641.9,1798.1 647.7,1788.9 654.7,1784.7 678.2,1783 704.2,1778 730.3,1769.4 756.4,1759 782.4,1747.3 808.5,1734.3 860.6,1708.2 912.7,1681.4 964.8,1654.8 981.8,1647 981.8,1903.1 964.8,1899 912.7,1886.7 860.6,1875 808.5,1863.3 782.4,1858 756.4,1852.8 725.1,1848.9 691.2,1848.9 662.7,1853.6 648.9,1858.2 639.6,1865.1 633.9,1876.7 629.2,1894 626,1912.4 622.9,1897.4 618.3,1964.6 615.4,1937.9"/>
<polyline class="edge" points="615.4,1787.2 620,1862.8 622.9,1833.3 625.8,1844.3 631,1831.6 636.2,1813.1 641.9,1798.1 647.7,1788.9 654.7,1784.7 678.2,1783 704.2,1778 730.3,1769.4 756.4,1759 782.4,1747.3 808.5,1734.3 860.6,1708.2 912.7,1681.4 964.8,1654.8 981.8,1647"/>
<polyline class="edge" points="615.4,1937.9 618.3,1964.6 622.9,1897.4 626,1912.4 629.2,1894 633.9,1876.7 639.6,1865.1 648.9,1858.2 662.7,1853.6 691.2,1848.9 725.1,1848.9 756.4,1852.8 782.4,1858 808.5,1863.3 860.6,1875 912.7,1886.7 964.8,1899 981.8,1903.1"/>
<polyline class="ln" points="615.4,1864 615.6,1881.3 617.1,1914.8 618.5,1931.5 620,1897.4 621.7,1876.7 623.1,1864.5 626.4,1879 628.1,1870.9 631.6,1857 635.6,1840.9 639.6,1831.6 643.1,1828.2 652.3,1820.1 705,1812.6 981.8,1774.7"/>
<rect class="fr" x="601.3" y="1617.7" width="394.9" height="396.6"/>
<path class="tl" d="M615.4 2014.3v7.5M697.6 2014.3v7.5M779.8 2014.3v7.5M862.1 2014.3v7.5M944.3 2014.3v7.5M601.3 1674.6H592.2M601.3 1742.3H592.2M601.3 1809.9H592.2M601.3 1877.6H592.2M601.3 1945.3H592.2M601.3 2011.3H592.2"/>
<text class="tk" text-anchor="middle" transform="translate(613.5 2043.6) scale(1.04 1)">0</text>
<text class="tk" text-anchor="middle" transform="translate(695.7 2043.6) scale(1.04 1)">10000</text>
<text class="tk" text-anchor="middle" transform="translate(777.9 2043.6) scale(1.04 1)">20000</text>
<text class="tk" text-anchor="middle" transform="translate(860.2 2043.6) scale(1.04 1)">30000</text>
<text class="tk" text-anchor="middle" transform="translate(942.4 2043.6) scale(1.04 1)">40000</text>
<text class="tk" text-anchor="middle" transform="translate(585.6 1675.1) rotate(-90) scale(0.97 1.11)">1.5</text>
<text class="tk" text-anchor="middle" transform="translate(585.6 1742.8) rotate(-90) scale(0.97 1.11)">1.0</text>
<text class="tk" text-anchor="middle" transform="translate(585.6 1810.4) rotate(-90) scale(0.97 1.11)">0.5</text>
<text class="tk" text-anchor="middle" transform="translate(585.6 1878.1) rotate(-90) scale(0.97 1.11)">0.0</text>
<text class="tk" text-anchor="middle" transform="translate(585.6 1945.8) rotate(-90) scale(0.97 1.11)">-0.5</text>
<text class="tk" text-anchor="middle" transform="translate(585.6 2011.8) rotate(-90) scale(0.97 1.11)">-1.0</text>
<text class="lab" text-anchor="middle" transform="translate(559.8 1816) rotate(-90)">log Hazard</text>
<text class="lab" text-anchor="middle" x="796.5" y="2066.9">piv</text>
<text class="ann" text-anchor="middle" x="860.1" y="1942.3">P-overall: &lt;0.001</text>
<text class="ann" text-anchor="middle" x="860.1" y="1962.9">P-non-linear: 0.0006</text>
</g>
<g id="d3">
<text class="ttl" x="1328.6" y="1602.3">d3</text>
<polygon class="band" points="1145.2,1841 1151.2,1897 1153.2,1858.9 1155.8,1871.6 1161.6,1864.7 1166.2,1848.5 1172,1833.5 1177.7,1824.3 1184.7,1820.3 1208.2,1819.7 1234.2,1816.3 1260.3,1811.1 1286.4,1803.3 1312.4,1794.2 1338.5,1783.8 1390.6,1761.6 1442.7,1736.9 1494.8,1713.4 1511.8,1705.6 1511.8,1961 1494.8,1955.8 1442.7,1941.4 1390.6,1927.1 1338.5,1914.1 1312.4,1906.8 1286.4,1901.6 1255.1,1897.1 1223.8,1895.3 1189.9,1899.3 1177.7,1902.8 1169.6,1909.7 1163.9,1921.3 1159.8,1934 1156,1947.8 1153.5,1931.7 1151.2,1972 1146,1998.7 1145.2,1990"/>
<polyline class="edge" points="1145.2,1841 1151.2,1897 1153.2,1858.9 1155.8,1871.6 1161.6,1864.7 1166.2,1848.5 1172,1833.5 1177.7,1824.3 1184.7,1820.3 1208.2,1819.7 1234.2,1816.3 1260.3,1811.1 1286.4,1803.3 1312.4,1794.2 1338.5,1783.8 1390.6,1761.6 1442.7,1736.9 1494.8,1713.4 1511.8,1705.6"/>
<polyline class="edge" points="1145.2,1990 1146,1998.7 1151.2,1972 1153.5,1931.7 1156,1947.8 1159.8,1934 1163.9,1921.3 1169.6,1909.7 1177.7,1902.8 1189.9,1899.3 1223.8,1895.3 1255.1,1897.1 1286.4,1901.6 1312.4,1906.8 1338.5,1914.1 1390.6,1927.1 1442.7,1941.4 1494.8,1955.8 1511.8,1961"/>
<polyline class="ln" points="1145.2,1919.5 1146,1924.7 1148.3,1936.3 1150.4,1949 1151.7,1931.7 1152.3,1908.6 1153.5,1894.7 1156.4,1910.9 1158.7,1905.1 1162.1,1894.7 1165.6,1880.9 1169.1,1872.8 1174.3,1865.8 1178.9,1861.8 1184.7,1859.9 1213.5,1857.8 1235,1856.5 1511.8,1832.8"/>
<rect class="fr" x="1131.3" y="1617.7" width="396.5" height="396.6"/>
<path class="tl" d="M1145.6 2014.3v7.5M1227.8 2014.3v7.5M1310.1 2014.3v7.5M1392.3 2014.3v7.5M1474.5 2014.3v7.5M1131.3 1674.6H1122.4M1131.3 1742.3H1122.4M1131.3 1809.9H1122.4M1131.3 1877.6H1122.4M1131.3 1945.3H1122.4M1131.3 2011.3H1122.4"/>
<text class="tk" text-anchor="middle" transform="translate(1143.7 2043.6) scale(1.04 1)">0</text>
<text class="tk" text-anchor="middle" transform="translate(1225.9 2043.6) scale(1.04 1)">10000</text>
<text class="tk" text-anchor="middle" transform="translate(1308.2 2043.6) scale(1.04 1)">20000</text>
<text class="tk" text-anchor="middle" transform="translate(1390.4 2043.6) scale(1.04 1)">30000</text>
<text class="tk" text-anchor="middle" transform="translate(1472.6 2043.6) scale(1.04 1)">40000</text>
<text class="tk" text-anchor="middle" transform="translate(1115.8 1675.1) rotate(-90) scale(0.97 1.11)">1.5</text>
<text class="tk" text-anchor="middle" transform="translate(1115.8 1742.8) rotate(-90) scale(0.97 1.11)">1.0</text>
<text class="tk" text-anchor="middle" transform="translate(1115.8 1810.4) rotate(-90) scale(0.97 1.11)">0.5</text>
<text class="tk" text-anchor="middle" transform="translate(1115.8 1878.1) rotate(-90) scale(0.97 1.11)">0.0</text>
<text class="tk" text-anchor="middle" transform="translate(1115.8 1945.8) rotate(-90) scale(0.97 1.11)">-0.5</text>
<text class="tk" text-anchor="middle" transform="translate(1115.8 2011.8) rotate(-90) scale(0.97 1.11)">-1.0</text>
<text class="lab" text-anchor="middle" transform="translate(1090 1816) rotate(-90)">log Hazard</text>
<text class="lab" text-anchor="middle" x="1326.7" y="2066.9">piv</text>
<text class="ann" text-anchor="middle" x="1390.3" y="1942.3">P-overall: 0.001</text>
<text class="ann" text-anchor="middle" x="1390.3" y="1962.9">P-non-linear: 0.006</text>
</g>
</svg></body></html>
